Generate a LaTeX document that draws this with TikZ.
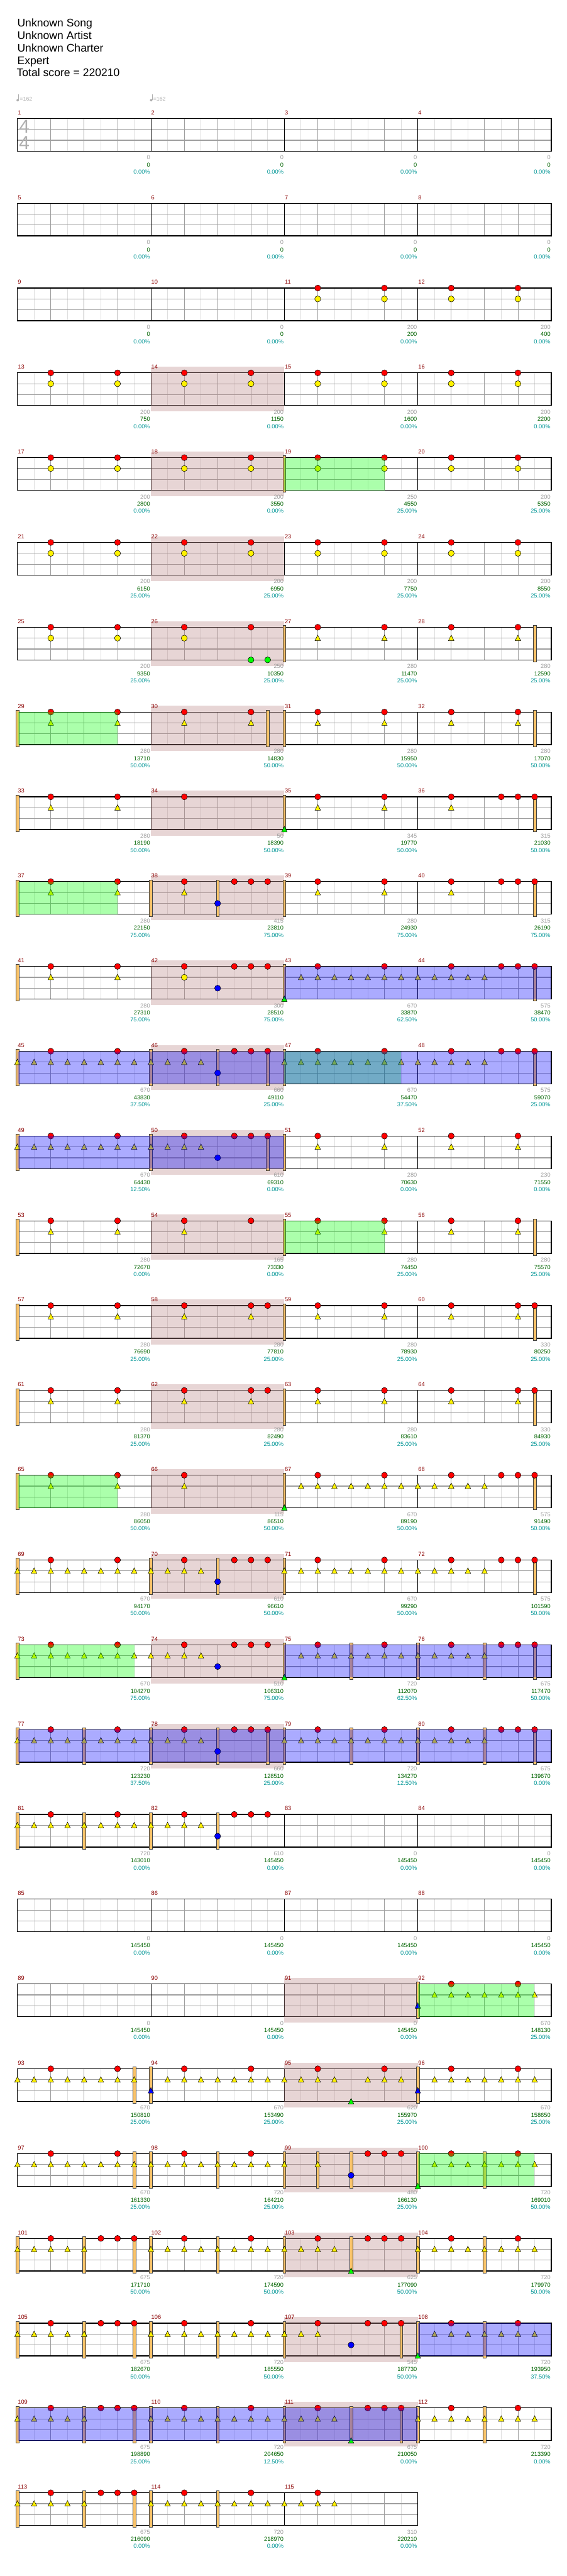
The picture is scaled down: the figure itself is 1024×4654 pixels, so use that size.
\documentclass[tikz,border=0pt]{standalone}
\usepackage{fontspec}
\setmainfont{Liberation Sans}
\usetikzlibrary{positioning}
\definecolor{barred}{RGB}{139,0,0}
\definecolor{scoregray}{RGB}{160,160,160}
\definecolor{scoregreen}{RGB}{0,100,0}
\definecolor{scoreteal}{RGB}{0,150,150}
\definecolor{kickorange}{RGB}{250,195,105}
\definecolor{fillpink}{RGB}{189,135,135}
\definecolor{lightgrid}{RGB}{222,222,222}
\definecolor{beatgrid}{RGB}{158,158,158}
\definecolor{tsgray}{RGB}{175,175,175}

% measure origin: 4 measures per row
\newcommand{\meas}[2]{%
  \pgfmathtruncatemacro{\mcol}{mod(#1-1,4)}%
  \pgfmathtruncatemacro{\mrow}{(#1-1)/4}%
  \begin{scope}[shift={({31.5+\mcol*241.25},{214+\mrow*153.2})}]#2\end{scope}}
% notes: position in eighths
\newcommand{\tomat}[3]{\foreach \p in {#3}{\filldraw[fill=#1, tomnote] ({\p*30.156},#2) circle[radius=4.1pt];}}
\newcommand{\cymat}[3]{\foreach \p in {#3}{\filldraw[fill=#1, tomnote] ({\p*30.156},{#2-5.5}) -- ++(5,10) -- ++(-10,0) -- cycle;}}
\newcommand{\rtom}[1]{\tomat{red}{0}{#1}}
\newcommand{\ytom}[1]{\tomat{yellow}{19.67}{#1}}
\newcommand{\btom}[1]{\tomat{blue}{39.33}{#1}}
\newcommand{\gtom}[1]{\tomat{green}{59}{#1}}
\newcommand{\ycym}[1]{\cymat{yellow}{19.67}{#1}}
\newcommand{\bcym}[1]{\cymat{blue}{39.33}{#1}}
\newcommand{\gcym}[1]{\cymat{green}{59}{#1}}
\newcommand{\kickat}[1]{\foreach \p in {#1}{\filldraw[kickbar] ({\p*30.156-2.6},-3.5) rectangle ++(5.2,66);}}
% overlays
\newcommand{\sphrase}[2]{\meas{#1}{\fill[phrasebox] (0,0) rectangle ({#2*30.156},59);}}
\newcommand{\spact}[2]{\meas{#1}{\fill[activbox] (0,0) rectangle ({#2*241.25},59);}}

\begin{document}
\begin{tikzpicture}[
  x=0.75pt, y=-0.75pt,
  gridlight/.style={draw=lightgrid, line width=0.75pt},
  gridbeat/.style={draw=beatgrid, line width=0.75pt},
  laneline/.style={draw=beatgrid, line width=1pt},
  measline/.style={draw=black, line width=0.75pt},
  staffframe/.style={draw=black, line width=1.1pt},
  fillbox/.style={fill=fillpink, fill opacity=0.35},
  phrasebox/.style={fill=green, fill opacity=0.33},
  activbox/.style={fill=blue, fill opacity=0.33},
  tomnote/.style={draw=black, line width=0.45pt},
  kickbar/.style={fill=kickorange, draw=black!75, line width=0.45pt},
  titletext/.style={anchor=base west, inner sep=0pt, font=\fontsize{15}{18}\selectfont},
  barnum/.style={anchor=base west, inner sep=0pt, text=barred, font=\fontsize{7.9}{9}\selectfont},
  scoretxt/.style={anchor=base east, inner sep=0pt, font=\fontsize{7.9}{9}\selectfont},
  tsig/.style={inner sep=0pt, text=tsgray, font=\fontsize{25.5}{26}\selectfont},
  tempotext/.style={anchor=base west, inner sep=0pt, text=tsgray, font=\fontsize{7.5}{9}\selectfont}
]
  \fill[white] (0,0) rectangle (1024,4654);
  \useasboundingbox (0,0) rectangle (1024,4654);

  % Header
  \node[titletext] (song) at (31,48.5) {Unknown Song};
  \node[titletext] (artist) at (31,71) {Unknown Artist};
  \node[titletext] (charter) at (31,93.5) {Unknown Charter};
  \node[titletext] (diff) at (31,116) {Expert};
  \node[titletext] (total) at (30,138.5) {Total score = 220210};

  % Staff rows
  \foreach \r in {0,...,28} {
    \pgfmathsetmacro{\ty}{214+\r*153.2}
    \pgfmathtruncatemacro{\nm}{\r<28 ? 4 : 3}
    \pgfmathtruncatemacro{\ne}{8*\nm-1}
    \pgfmathsetmacro{\xe}{31.5+\nm*241.25}
    \foreach \i in {1,3,...,\ne} \draw[gridlight] ({31.5+\i*30.156},\ty) -- ++(0,59);
    \foreach \i in {2,4,...,\ne} \draw[gridbeat] ({31.5+\i*30.156},\ty) -- ++(0,59);
    \draw[laneline] (31.5,{\ty+19.67}) -- (\xe,{\ty+19.67});
    \draw[laneline] (31.5,{\ty+39.33}) -- (\xe,{\ty+39.33});
    \foreach \i in {8,16,...,\ne} \draw[measline] ({31.5+\i*30.156},\ty) -- ++(0,59);
    \draw[staffframe] (31.5,\ty) rectangle (\xe,{\ty+59});
  }

  % Fill sections
  \foreach \m in {14,18,22,26,30,34,38,42,46,50,54,58,62,66,70,74,78,91,95,99,103,107,111}
    \meas{\m}{\fill[fillbox] (0,-11) rectangle (241.25,70);};

  % Time signature and tempo
  \node[tsig] (tsup) at (44,229) {4};
  \node[tsig] (tsdown) at (44,258.5) {4};
  \foreach \tx in {31.5,272.75} {
    \fill[tsgray] ({\tx+0.5},181) circle[radius=1.7pt];
    \draw[tsgray, line width=0.6pt] ({\tx+2.4},181) -- ({\tx+2.4},170.5);
    \node[tempotext] at ({\tx+4},182.5) {=162};
  }

  % Notes
  \foreach \m in {11,...,25} {\meas{\m}{\rtom{2,6}\ytom{2,6}}}
  \meas{19}{\kickat{0}}
  \meas{26}{\rtom{2,6}\ytom{2}\gtom{6,7}}
  \meas{27}{\kickat{0}\rtom{2,6}\ycym{2,6}}
  \meas{28}{\kickat{7}\rtom{2,6}\ycym{2,6}}
  \meas{29}{\kickat{0}\rtom{2,6}\ycym{2,6}}
  \meas{30}{\kickat{7}\rtom{2,6}\ycym{2,6}}
  \meas{31}{\kickat{0}\rtom{2,6}\ycym{2,6}}
  \meas{32}{\kickat{7}\rtom{2,6}\ycym{2,6}}
  \meas{33}{\kickat{0}\rtom{2,6}\ycym{2,6}}
  \meas{34}{\rtom{2}}
  \meas{35}{\kickat{0}\gcym{0}\rtom{2,6}\ycym{2,6}}
  \meas{36}{\kickat{7}\rtom{2,5,6,7}\ycym{2}}
  \meas{37}{\kickat{0}\rtom{2,6}\ycym{2,6}}
  \meas{38}{\kickat{0,4}\rtom{2,5,6,7}\ycym{2}\btom{4}}
  \meas{39}{\kickat{0}\rtom{2,6}\ycym{2,6}}
  \meas{40}{\kickat{7}\rtom{2,5,6,7}\ycym{2}}
  \meas{41}{\kickat{0}\rtom{2,6}\ycym{2,6}}
  \meas{42}{\rtom{2,5,6,7}\ytom{2}\btom{4}}
  \meas{43}{\kickat{0}\gcym{0}\rtom{2,6}\ycym{1,...,7}}
  \meas{44}{\kickat{7}\rtom{2,5,6,7}\ycym{0,...,4}}
  \meas{45}{\kickat{0}\rtom{2,6}\ycym{0,...,7}}
  \meas{46}{\kickat{0,4,7}\rtom{2,5,6,7}\ycym{0,...,3}\btom{4}}
  \meas{47}{\kickat{0}\rtom{2,6}\ycym{0,...,7}}
  \meas{48}{\kickat{7}\rtom{2,5,6,7}\ycym{0,...,4}}
  \meas{49}{\kickat{0}\rtom{2,6}\ycym{0,...,7}}
  \meas{50}{\kickat{0,7}\rtom{2,5,6,7}\ycym{0,...,3}\btom{4}}
  \meas{51}{\kickat{0}\rtom{2,6}\ycym{2,6}}
  \meas{52}{\rtom{2,6}\ycym{2,6}}
  \meas{53}{\kickat{0}\rtom{2,6}\ycym{2,6}}
  \meas{54}{\rtom{2,6}\ycym{2}}
  \meas{55}{\kickat{0}\rtom{2,6}\ycym{2,6}}
  \meas{56}{\kickat{7}\rtom{2,6}\ycym{2,6}}
  \foreach \m in {57,61} {
    \meas{\m}{\kickat{0}\rtom{2,6}\ycym{2,6}}
    \meas{\m+1}{\rtom{2,6,7}\ycym{2,6}}
    \meas{\m+2}{\kickat{0}\rtom{2,6}\ycym{2,6}}
    \meas{\m+3}{\kickat{7}\rtom{2,6,7}\ycym{2,6}}
  }
  \meas{65}{\kickat{0}\rtom{2,6}\ycym{2,6}}
  \meas{66}{\rtom{2}\ycym{2}}
  \meas{67}{\kickat{0}\gcym{0}\rtom{2,6}\ycym{1,...,7}}
  \meas{68}{\kickat{7}\rtom{2,5,6,7}\ycym{0,...,4}}
  \meas{69}{\kickat{0}\rtom{2,6}\ycym{0,...,7}}
  \meas{70}{\kickat{0,4}\rtom{2,5,6,7}\ycym{0,...,3}\btom{4}}
  \meas{71}{\kickat{0}\rtom{2,6}\ycym{0,...,7}}
  \meas{72}{\kickat{7}\rtom{2,5,6,7}\ycym{0,...,4}}
  \meas{73}{\kickat{0}\rtom{2,6}\ycym{0,...,7}}
  \meas{74}{\rtom{2,5,6,7}\ycym{0,...,3}\btom{4}}
  \meas{75}{\kickat{0,4}\gcym{0}\rtom{2,6}\ycym{1,...,7}}
  \meas{76}{\kickat{0,4,7}\rtom{2,5,6,7}\ycym{0,...,4}}
  \meas{77}{\kickat{0,4}\rtom{2,6}\ycym{0,...,7}}
  \meas{78}{\kickat{0,4,7}\rtom{2,5,6,7}\ycym{0,...,3}\btom{4}}
  \meas{79}{\kickat{0,4}\rtom{2,6}\ycym{0,...,7}}
  \meas{80}{\kickat{0,4,7}\rtom{2,5,6,7}\ycym{0,...,4}}
  \meas{81}{\kickat{0,4}\rtom{2,6}\ycym{0,...,7}}
  \meas{82}{\kickat{0,4}\rtom{2,5,6,7}\ycym{0,...,3}\btom{4}}
  \meas{92}{\kickat{0}\bcym{0}\rtom{2,6}\ycym{1,...,7}}
  \meas{93}{\kickat{7}\rtom{2,6}\ycym{0,...,7}}
  \meas{94}{\kickat{0}\bcym{0}\rtom{2,6}\ycym{1,...,7}}
  \meas{95}{\rtom{2,6}\ycym{0,1,2,3,5,6,7}\gcym{4}}
  \meas{96}{\kickat{0}\bcym{0}\rtom{2,6}\ycym{1,...,7}}
  \meas{97}{\kickat{7}\rtom{2,6}\ycym{0,...,7}}
  \meas{98}{\kickat{0,4}\rtom{2,6}\ycym{0,...,7}}
  \meas{99}{\kickat{0,2,4}\ycym{0,2}\btom{4}\rtom{5,6,7}}
  \meas{100}{\kickat{0,4}\gcym{0}\rtom{2,6}\ycym{1,...,7}}
  \meas{101}{\kickat{0,4,7}\rtom{2,5,6,7}\ycym{0,...,4}}
  \meas{102}{\kickat{0,4}\rtom{2,6}\ycym{0,...,7}}
  \meas{103}{\kickat{0,4}\gcym{4}\rtom{2,5,6,7}\ycym{0,...,3}}
  \meas{104}{\kickat{0,4}\rtom{2,6}\ycym{0,...,7}}
  \meas{105}{\kickat{0,4,7}\rtom{2,5,6,7}\ycym{0,...,4}}
  \meas{106}{\kickat{0,4}\rtom{2,6}\ycym{0,...,7}}
  \meas{107}{\kickat{0,7}\rtom{2,5,6,7}\ycym{0,1,2}\btom{4}}
  \meas{108}{\kickat{0,4}\gcym{0}\rtom{2,6}\ycym{1,...,7}}
  \meas{109}{\kickat{0,4,7}\rtom{2,5,6,7}\ycym{0,...,4}}
  \meas{110}{\kickat{0,4}\rtom{2,6}\ycym{0,...,7}}
  \meas{111}{\kickat{0,4,7}\gcym{4}\rtom{2,5,6,7}\ycym{0,...,3}}
  \meas{112}{\kickat{0,4}\rtom{2,6}\ycym{0,...,7}}
  \meas{113}{\kickat{0,4,7}\rtom{2,5,6,7}\ycym{0,...,4}}
  \meas{114}{\kickat{0,4}\rtom{2,6}\ycym{0,...,7}}
  \meas{115}{\rtom{2}\ycym{0,...,3}}

  % Star power phrases and activations
  \foreach \m/\e in {19/6,29/6,37/6,47/7,55/6,65/6,73/7,92/7,100/7} \sphrase{\m}{\e};
  \foreach \m/\n in {43/2,45/4,49/2,75/2,77/4,108/1,109/3} \spact{\m}{\n};

  % Measure numbers and scores
  \foreach \m/\a/\b/\c in {1/0/0/0.00,2/0/0/0.00,3/0/0/0.00,4/0/0/0.00,
    5/0/0/0.00,6/0/0/0.00,7/0/0/0.00,8/0/0/0.00,
    9/0/0/0.00,10/0/0/0.00,11/200/200/0.00,12/200/400/0.00,
    13/200/750/0.00,14/200/1150/0.00,15/200/1600/0.00,16/200/2200/0.00,
    17/200/2800/0.00,18/200/3550/0.00,19/250/4550/25.00,20/200/5350/25.00,
    21/200/6150/25.00,22/200/6950/25.00,23/200/7750/25.00,24/200/8550/25.00,
    25/200/9350/25.00,26/250/10350/25.00,27/280/11470/25.00,28/280/12590/25.00,
    29/280/13710/50.00,30/280/14830/50.00,31/280/15950/50.00,32/280/17070/50.00,
    33/280/18190/50.00,34/50/18390/50.00,35/345/19770/50.00,36/315/21030/50.00,
    37/280/22150/75.00,38/415/23810/75.00,39/280/24930/75.00,40/315/26190/75.00,
    41/280/27310/75.00,42/300/28510/75.00,43/670/33870/62.50,44/575/38470/50.00,
    45/670/43830/37.50,46/660/49110/25.00,47/670/54470/37.50,48/575/59070/25.00,
    49/670/64430/12.50,50/610/69310/0.00,51/280/70630/0.00,52/230/71550/0.00,
    53/280/72670/0.00,54/165/73330/0.00,55/280/74450/25.00,56/280/75570/25.00,
    57/280/76690/25.00,58/280/77810/25.00,59/280/78930/25.00,60/330/80250/25.00,
    61/280/81370/25.00,62/280/82490/25.00,63/280/83610/25.00,64/330/84930/25.00,
    65/280/86050/50.00,66/115/86510/50.00,67/670/89190/50.00,68/575/91490/50.00,
    69/670/94170/50.00,70/610/96610/50.00,71/670/99290/50.00,72/575/101590/50.00,
    73/670/104270/75.00,74/510/106310/75.00,75/720/112070/62.50,76/675/117470/50.00,
    77/720/123230/37.50,78/660/128510/25.00,79/720/134270/12.50,80/675/139670/0.00,
    81/720/143010/0.00,82/610/145450/0.00,83/0/145450/0.00,84/0/145450/0.00,
    85/0/145450/0.00,86/0/145450/0.00,87/0/145450/0.00,88/0/145450/0.00,
    89/0/145450/0.00,90/0/145450/0.00,91/0/145450/0.00,92/670/148130/25.00,
    93/670/150810/25.00,94/670/153490/25.00,95/620/155970/25.00,96/670/158650/25.00,
    97/670/161330/25.00,98/720/164210/25.00,99/480/166130/25.00,100/720/169010/50.00,
    101/675/171710/50.00,102/720/174590/50.00,103/625/177090/50.00,104/720/179970/50.00,
    105/675/182670/50.00,106/720/185550/50.00,107/545/187730/50.00,108/720/193950/37.50,
    109/675/198890/25.00,110/720/204650/12.50,111/675/210050/0.00,112/720/213390/0.00,
    113/675/216090/0.00,114/720/218970/0.00,115/310/220210/0.00} {
    \meas{\m}{%
      \node[barnum] (num\m) at (0.5,-7) {\m};
      \node[scoretxt, text=scoregray] (pts\m) at (240,74.3) {\a};
      \node[scoretxt, text=scoregreen] (tot\m) at (240,87.3) {\b};
      \node[scoretxt, text=scoreteal] (sp\m) at (240,100.3) {\c\%};
    }
  }
\end{tikzpicture}
\end{document}
